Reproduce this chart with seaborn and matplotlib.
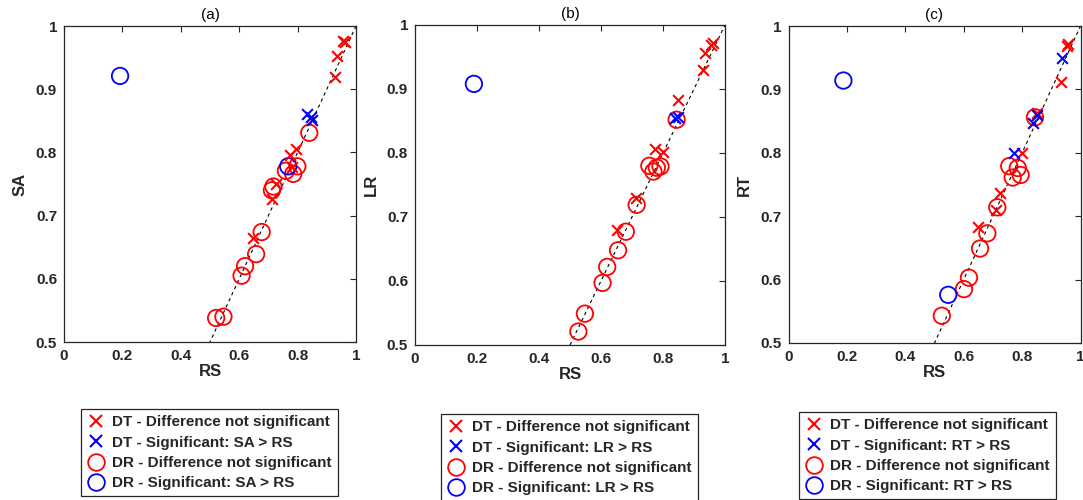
import matplotlib
matplotlib.use("Agg")
import matplotlib.pyplot as plt
import seaborn as sns
import numpy as np
import pandas as pd
from matplotlib.lines import Line2D

# ---------------- data ----------------
panel_titles = ["(a)", "(b)", "(c)"]
y_names = ["SA", "LR", "RT"]
x_name = "RS"
x_ticks = [0, 0.2, 0.4, 0.6, 0.8, 1]
x_tick_labels = ["0", "0.2", "0.4", "0.6", "0.8", "1"]
y_ticks = [0.5, 0.6, 0.7, 0.8, 0.9, 1]
y_tick_labels = ["0.5", "0.6", "0.7", "0.8", "0.9", "1"]

# Panel (a): RS vs SA
a_dt_ns_x = [0.954, 0.962, 0.934, 0.928, 0.795, 0.774, 0.780, 0.726, 0.711, 0.648]
a_dt_ns_y = [0.977, 0.974, 0.953, 0.920, 0.805, 0.796, 0.777, 0.750, 0.727, 0.664]
a_dt_s_x = [0.831, 0.845, 0.850]
a_dt_s_y = [0.860, 0.856, 0.851]
a_dr_ns_x = [0.840, 0.799, 0.760, 0.785, 0.717, 0.712, 0.677, 0.658, 0.620, 0.608, 0.521, 0.546]
a_dr_ns_y = [0.831, 0.778, 0.771, 0.766, 0.746, 0.740, 0.674, 0.639, 0.620, 0.605, 0.538, 0.540]
a_dr_s_x = [0.192, 0.768]
a_dr_s_y = [0.921, 0.778]

# Panel (b): RS vs LR
b_dt_ns_x = [0.954, 0.960, 0.935, 0.928, 0.849, 0.774, 0.799, 0.713, 0.651]
b_dt_ns_y = [0.969, 0.972, 0.956, 0.930, 0.883, 0.807, 0.802, 0.729, 0.679]
b_dt_s_x = [0.840, 0.848]
b_dt_s_y = [0.855, 0.857]
b_dr_ns_x = [0.844, 0.756, 0.792, 0.769, 0.780, 0.715, 0.680, 0.655, 0.620, 0.605, 0.548, 0.527]
b_dr_ns_y = [0.852, 0.780, 0.779, 0.771, 0.777, 0.719, 0.677, 0.648, 0.622, 0.597, 0.549, 0.521]
b_dr_s_x = [0.190]
b_dr_s_y = [0.908]

# Panel (c): RS vs RT
c_dt_ns_x = [0.958, 0.955, 0.932, 0.852, 0.799, 0.724, 0.712, 0.650]
c_dt_ns_y = [0.972, 0.968, 0.911, 0.863, 0.799, 0.736, 0.710, 0.683]
c_dt_s_x = [0.936, 0.850, 0.838, 0.772]
c_dt_s_y = [0.949, 0.860, 0.847, 0.799]
c_dr_ns_x = [0.844, 0.756, 0.785, 0.768, 0.795, 0.715, 0.681, 0.656, 0.618, 0.601, 0.525]
c_dr_ns_y = [0.856, 0.779, 0.776, 0.761, 0.765, 0.714, 0.673, 0.649, 0.603, 0.585, 0.543]
c_dr_s_x = [0.188, 0.547]
c_dr_s_y = [0.914, 0.576]

panels = [
    (a_dt_ns_x, a_dt_ns_y, a_dt_s_x, a_dt_s_y, a_dr_ns_x, a_dr_ns_y, a_dr_s_x, a_dr_s_y),
    (b_dt_ns_x, b_dt_ns_y, b_dt_s_x, b_dt_s_y, b_dr_ns_x, b_dr_ns_y, b_dr_s_x, b_dr_s_y),
    (c_dt_ns_x, c_dt_ns_y, c_dt_s_x, c_dt_s_y, c_dr_ns_x, c_dr_ns_y, c_dr_s_x, c_dr_s_y),
]

# ---------------- style ----------------
sns.set_theme(style="white")
plt.rcParams["font.family"] = ["Liberation Sans", "DejaVu Sans"]
dark = "#262626"

fig = plt.figure(figsize=(10.83, 5.0), dpi=100)
axes_rects = [
    [64 / 1083, 158 / 500, 292 / 1083, 316 / 500],
    [415 / 1083, 155 / 500, 310 / 1083, 320 / 500],
    [788.5 / 1083, 157 / 500, 292 / 1083, 317 / 500],
]
legend_anchor = [(81 / 1083, 1 - 409 / 500), (441 / 1083, 1 - 414 / 500), (799 / 1083, 1 - 412 / 500)]

RED = "#ff0000"
BLUE = "#0000ff"
s_x = 60
s_o = 140

for i, (rect, data) in enumerate(zip(axes_rects, panels)):
    ax = fig.add_axes(rect)
    dtnx, dtny, dtsx, dtsy, drnx, drny, drsx, drsy = data
    # identity line
    ax.plot([0, 1], [0, 1], ls=(0, (3, 3)), color="black", lw=0.8, zorder=1)
    sns.scatterplot(x=drnx, y=drny, marker="o", s=s_o, color=RED, facecolors="none",
                    edgecolor=RED, linewidth=1.3, ax=ax, zorder=3)
    sns.scatterplot(x=drsx, y=drsy, marker="o", s=s_o, color=BLUE, facecolors="none",
                    edgecolor=BLUE, linewidth=1.3, ax=ax, zorder=3)
    sns.scatterplot(x=dtnx, y=dtny, marker="x", s=s_x, color=RED, linewidth=1.5, ax=ax, zorder=4)
    sns.scatterplot(x=dtsx, y=dtsy, marker="x", s=s_x, color=BLUE, linewidth=1.5, ax=ax, zorder=4)

    ax.set_xlim(0, 1)
    ax.set_ylim(0.5, 1)
    ax.set_xticks(x_ticks)
    ax.set_xticklabels(x_tick_labels)
    ax.set_yticks(y_ticks)
    ax.set_yticklabels(y_tick_labels)
    ax.tick_params(direction="in", length=4, width=0.8, colors=dark, labelsize=11,
                   top=True, right=True, pad=5)
    for lab in ax.get_xticklabels() + ax.get_yticklabels():
        lab.set_fontweight("bold")
    for sp in ax.spines.values():
        sp.set_color(dark)
        sp.set_linewidth(0.9)
    ax.set_xlabel(x_name, fontsize=12, fontweight="bold", color=dark, labelpad=1)
    ax.set_ylabel(y_names[i], fontsize=12, fontweight="bold", color=dark, labelpad=6)
    ax.set_title(panel_titles[i], fontsize=11, color="black", pad=5)

    yn = y_names[i]
    handles = [
        Line2D([], [], marker="x", ls="none", color=RED, markersize=8, markeredgewidth=1.5),
        Line2D([], [], marker="x", ls="none", color=BLUE, markersize=8, markeredgewidth=1.5),
        Line2D([], [], marker="o", ls="none", markerfacecolor="none", markeredgecolor=RED,
               markersize=12, markeredgewidth=1.3),
        Line2D([], [], marker="o", ls="none", markerfacecolor="none", markeredgecolor=BLUE,
               markersize=12, markeredgewidth=1.3),
    ]
    labels = [
        "DT - Difference not significant",
        f"DT - Significant: {yn} > RS",
        "DR - Difference not significant",
        f"DR - Significant: {yn} > RS",
    ]
    leg = fig.legend(handles, labels, loc="upper left", bbox_to_anchor=legend_anchor[i],
                     bbox_transform=fig.transFigure, frameon=True, fancybox=False,
                     edgecolor=dark, framealpha=1, borderpad=0.4, labelspacing=0.42,
                     handlelength=1.2, handletextpad=0.45, borderaxespad=0,
                     prop={"weight": "bold", "size": 11})
    leg.get_frame().set_linewidth(0.9)

fig.savefig("out.png", dpi=100)
